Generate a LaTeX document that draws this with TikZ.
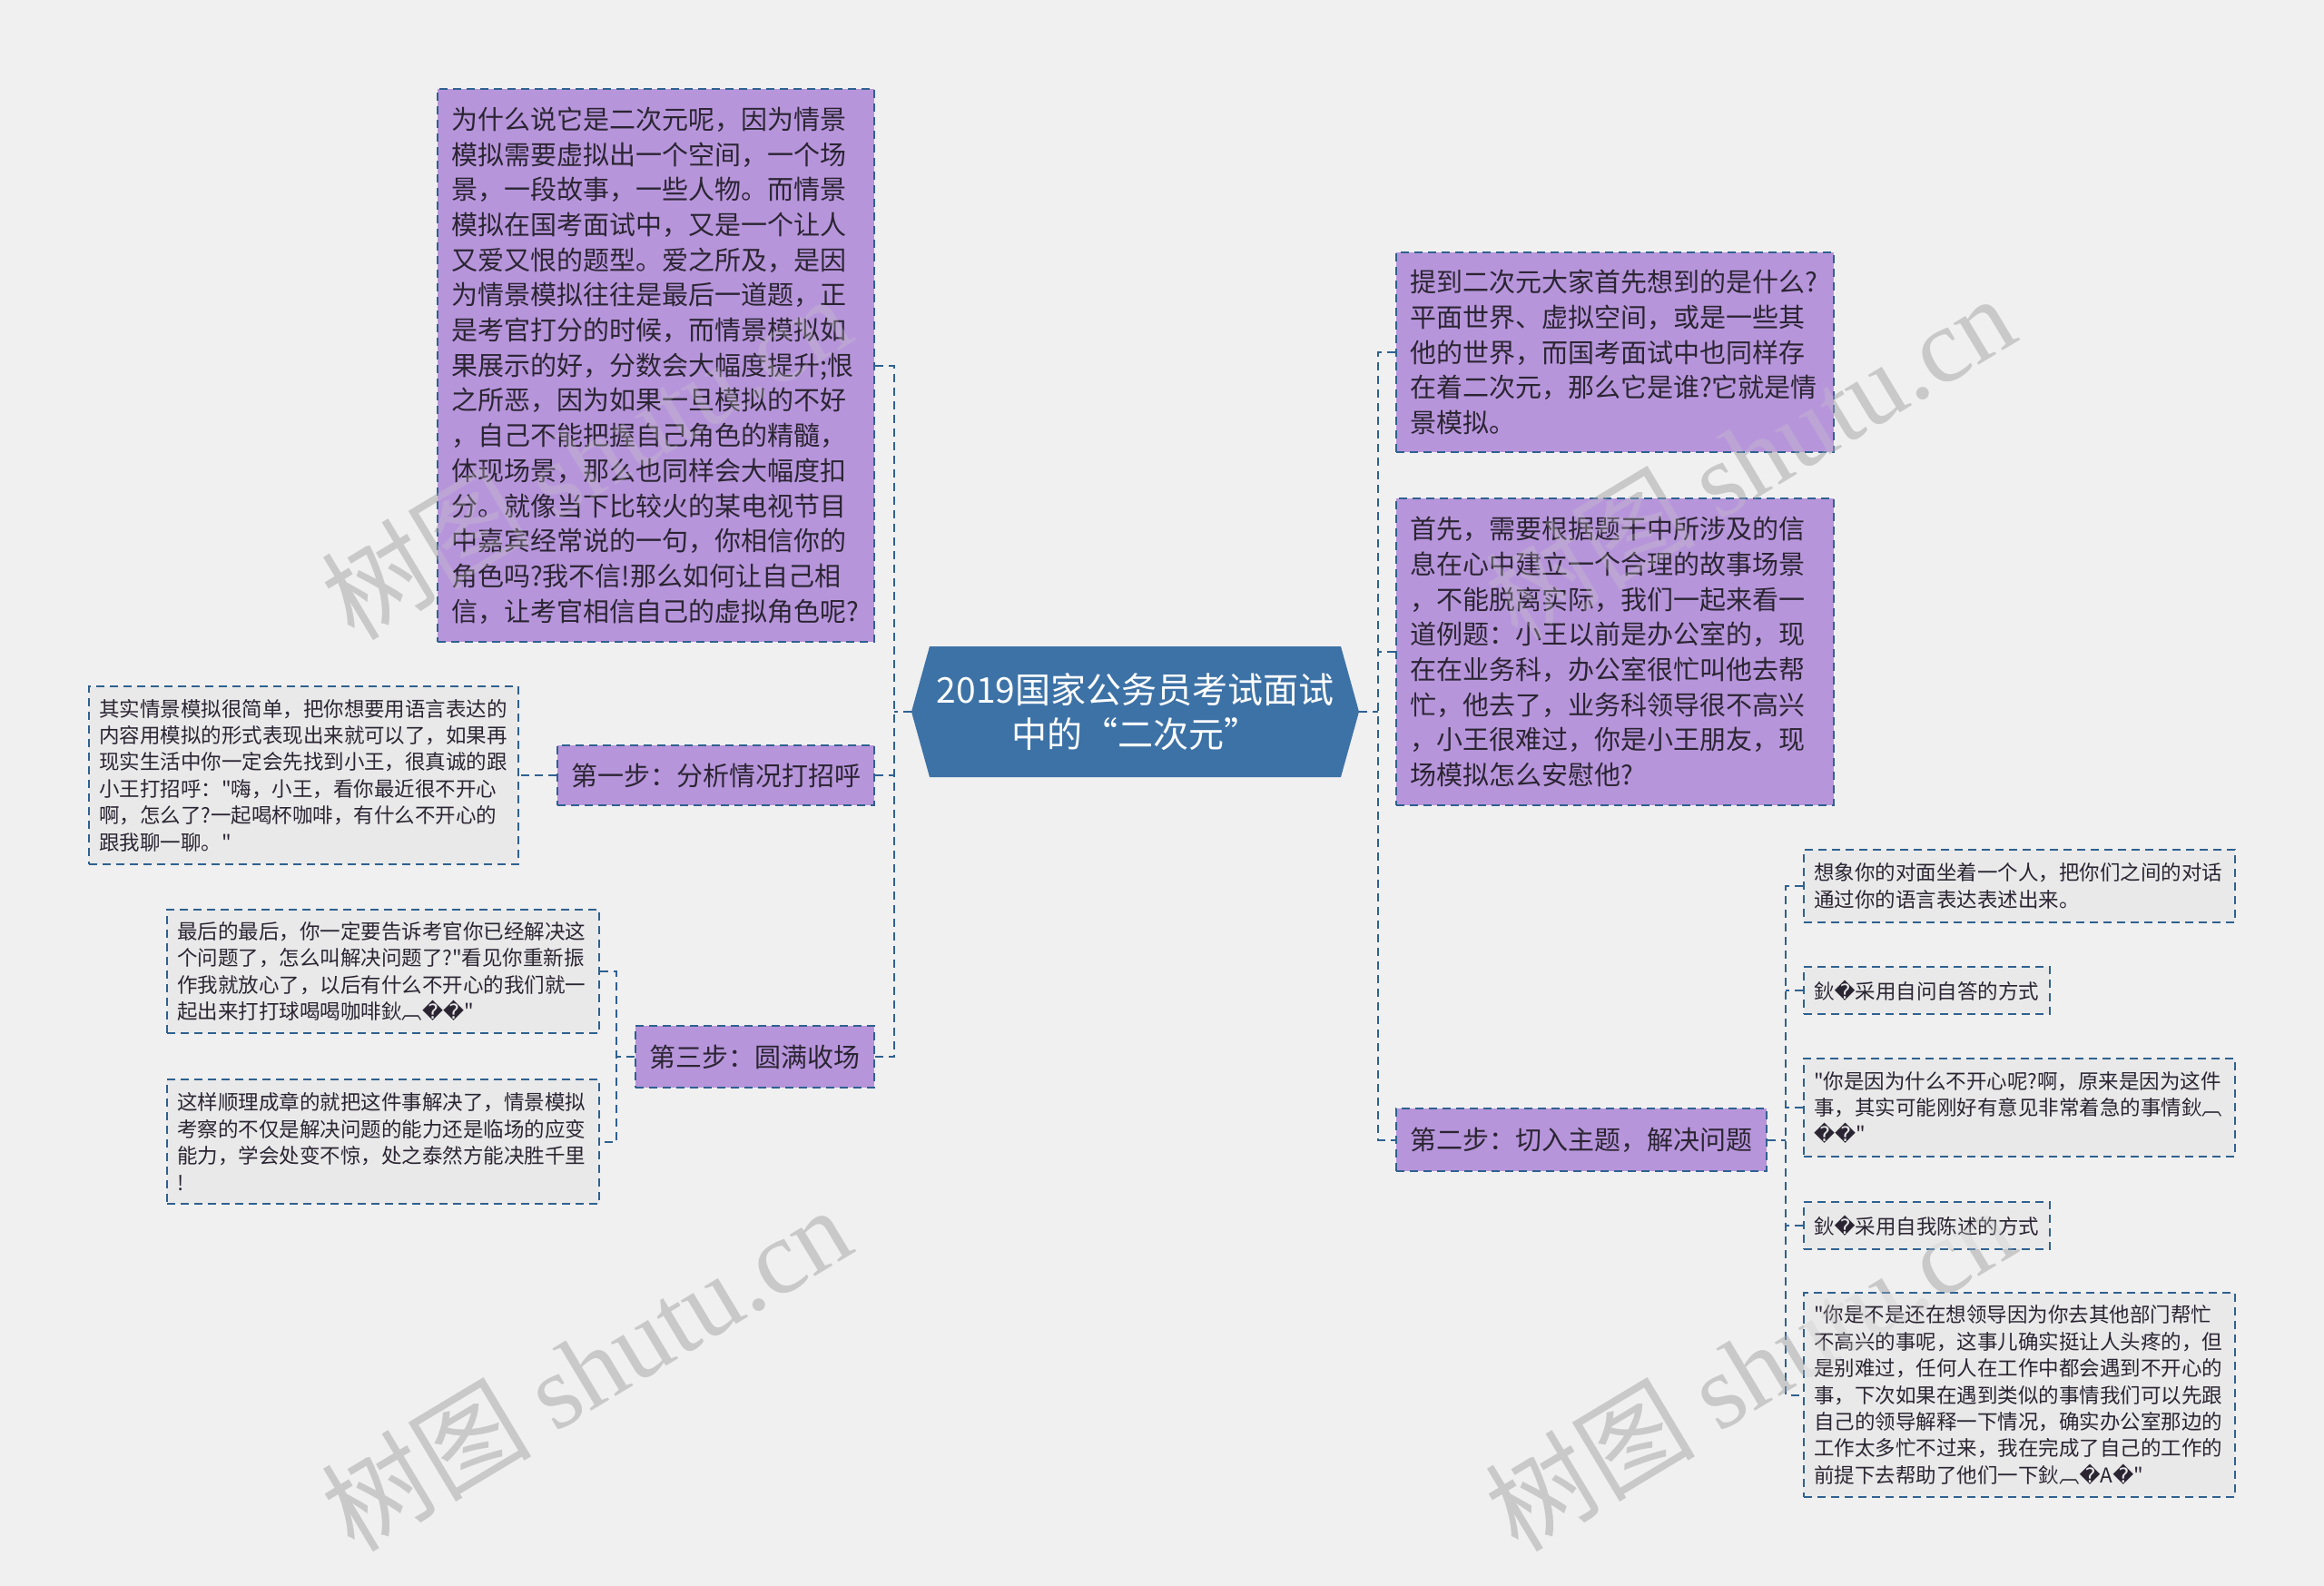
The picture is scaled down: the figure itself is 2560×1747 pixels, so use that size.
\documentclass[tikz,border=0pt]{standalone}
\usepackage{fontspec}
\setmainfont{Noto Sans CJK SC}[Ligatures=TeXOff]
\newfontfamily\dvfont{DejaVu Sans}
\newfontfamily\wmserif{Liberation Serif}
\definecolor{bgc}{HTML}{F0F0F0}
\definecolor{purp}{HTML}{B795DB}
\definecolor{bordc}{HTML}{2F6190}
\definecolor{rootc}{HTML}{3D72A6}
\definecolor{greyf}{HTML}{E9E9E9}
\definecolor{txtd}{HTML}{2B2533}
\definecolor{wmc}{HTML}{C9C9C9}
\newcommand{\rc}{{\dvfont\symbol{"FFFD}}}
\newcommand{\wmtext}{树图 {\wmserif shutu.cn}}
\tikzset{
  bx/.style={draw=bordc, line width=2pt, dash pattern=on 9pt off 6pt, inner ysep=0pt, anchor=center},
  pbig/.style={bx, fill=purp, text=txtd, align=left, inner xsep=15pt, font=\fontsize{29}{38.7}\selectfont},
  stepn/.style={bx, fill=purp, text=txtd, align=center, inner xsep=0pt, font=\fontsize{29}{35}\selectfont},
  gbox/.style={bx, fill=greyf, text=txtd, align=left, inner xsep=11pt, font=\fontsize{22.5}{29.4}\selectfont},
  conn/.style={draw=bordc, line width=2pt, dash pattern=on 9pt off 6pt},
  wm/.style={text=wmc, font=\fontsize{116}{116}\selectfont, rotate=31, inner sep=0pt},
  wmtop/.style={wm, text opacity=0.3},
}
\begin{document}
\begin{tikzpicture}[x=1pt, y=-1pt]
\useasboundingbox (0,0) rectangle (2560,1747);
\fill[bgc] (0,0) rectangle (2560,1747);

% watermarks (under the boxes)
\node[wm] (wm1) at (645,503) {\wmtext};
\node[wm] (wm2) at (1927,503) {\wmtext};
\node[wm] (wm3) at (645,1507) {\wmtext};
\node[wm] (wm4) at (1927,1507) {\wmtext};

% root hexagon
\fill[rootc] (1004,784) -- (1024,712) -- (1477,712) -- (1497,784) -- (1477,856) -- (1024,856) -- cycle;
\node[inner sep=0pt, minimum width=493pt, minimum height=144pt, text=white, align=center,
      font=\fontsize{39}{49}\selectfont] (root) at (1250.5,784)
      {2019国家公务员考试面试\\中的“二次元”};

% left side
\node[pbig, minimum width=481pt, minimum height=609pt, text width=451pt] (tl) at (722.5,402.5) {为什么说它是二次元呢，因为情景\\模拟需要虚拟出一个空间，一个场\\景，一段故事，一些人物。而情景\\模拟在国考面试中，又是一个让人\\又爱又恨的题型。爱之所及，是因\\为情景模拟往往是最后一道题，正\\是考官打分的时候，而情景模拟如\\果展示的好，分数会大幅度提升;恨\\之所恶，因为如果一旦模拟的不好\\，自己不能把握自己角色的精髓，\\体现场景，那么也同样会大幅度扣\\分。就像当下比较火的某电视节目\\中嘉宾经常说的一句，你相信你的\\角色吗?我不信!那么如何让自己相\\信，让考官相信自己的虚拟角色呢?};

\node[stepn, minimum width=349pt, minimum height=66pt] (s1) at (788.5,854) {第一步：分析情况打招呼};
\node[stepn, minimum width=263pt, minimum height=68pt] (s3) at (831.5,1164) {第三步：圆满收场};

\node[gbox, minimum width=473pt, minimum height=196pt, text width=451pt] (g1) at (334.5,854) {其实情景模拟很简单，把你想要用语言表达的\\内容用模拟的形式表现出来就可以了，如果再\\现实生活中你一定会先找到小王，很真诚的跟\\小王打招呼："嗨，小王，看你最近很不开心\\啊，怎么了?一起喝杯咖啡，有什么不开心的\\跟我聊一聊。"};

\node[gbox, minimum width=476pt, minimum height=136pt, text width=454pt] (g2) at (422,1070) {最后的最后，你一定要告诉考官你已经解决这\\个问题了，怎么叫解决问题了?"看见你重新振\\作我就放心了，以后有什么不开心的我们就一\\起出来打打球喝喝咖啡鈥︹\rc\rc"};

\node[gbox, minimum width=476pt, minimum height=137pt, text width=454pt] (g3) at (422,1257.5) {这样顺理成章的就把这件事解决了，情景模拟\\考察的不仅是解决问题的能力还是临场的应变\\能力，学会处变不惊，处之泰然方能决胜千里\\!};

% right side
\node[pbig, minimum width=482pt, minimum height=220pt, text width=452pt] (tr1) at (1779,388) {提到二次元大家首先想到的是什么?\\平面世界、虚拟空间，或是一些其\\他的世界，而国考面试中也同样存\\在着二次元，那么它是谁?它就是情\\景模拟。};

\node[pbig, minimum width=482pt, minimum height=338pt, text width=452pt] (tr2) at (1779,718) {首先，需要根据题干中所涉及的信\\息在心中建立一个合理的故事场景\\，不能脱离实际，我们一起来看一\\道例题：小王以前是办公室的，现\\在在业务科，办公室很忙叫他去帮\\忙，他去了，业务科领导很不高兴\\，小王很难过，你是小王朋友，现\\场模拟怎么安慰他?};

\node[stepn, minimum width=408pt, minimum height=69pt] (s2) at (1742,1255.5) {第二步：切入主题，解决问题};

\node[gbox, minimum width=475pt, minimum height=80pt, text width=453pt] (c1) at (2224.5,976) {想象你的对面坐着一个人，把你们之间的对话\\通过你的语言表达表述出来。};
\node[gbox, minimum width=271pt, minimum height=52pt, text width=249pt] (c2) at (2122.5,1091) {鈥\rc 采用自问自答的方式};
\node[gbox, minimum width=475pt, minimum height=108pt, text width=453pt] (c3) at (2224.5,1220) {"你是因为什么不开心呢?啊，原来是因为这件\\事，其实可能刚好有意见非常着急的事情鈥︹\\\rc\rc"};
\node[gbox, minimum width=271pt, minimum height=52pt, text width=249pt] (c4) at (2122.5,1350) {鈥\rc 采用自我陈述的方式};
\node[gbox, minimum width=475pt, minimum height=225pt, text width=453pt] (c5) at (2224.5,1536.5) {"你是不是还在想领导因为你去其他部门帮忙\\不高兴的事呢，这事儿确实挺让人头疼的，但\\是别难过，任何人在工作中都会遇到不开心的\\事，下次如果在遇到类似的事情我们可以先跟\\自己的领导解释一下情况，确实办公室那边的\\工作太多忙不过来，我在完成了自己的工作的\\前提下去帮助了他们一下鈥︹\rc A\rc"};

% connectors
\coordinate (lt) at (985,784);
\coordinate (rt) at (1518,784);
\coordinate (b3) at (679,1164);
\coordinate (b2) at (1967,1255.5);

\draw[conn] (root.west) -- (lt);
\draw[conn] (tl.east) -| (lt |- s3.east) -- (s3.east);
\draw[conn] (s1.east) -- (s1.east -| lt);

\draw[conn] (root.east) -- (rt);
\draw[conn] (tr1.west) -| (rt |- s2.west) -- (s2.west);
\draw[conn] (tr2.west) -- (tr2.west -| rt);

\draw[conn] (s1.west) -- (g1.east);

\draw[conn] (g2.east) -| (b3 |- g3.east) -- (g3.east);
\draw[conn] (s3.west) -- (s3.west -| b3);

\draw[conn] (c1.west) -| (b2 |- c5.west) -- (c5.west);
\draw[conn] (s2.east) -- (s2.east -| b2);
\draw[conn] (c2.west) -- (c2.west -| b2);
\draw[conn] (c3.west) -- (c3.west -| b2);
\draw[conn] (c4.west) -- (c4.west -| b2);

% faint watermark overlay on top of the boxes
\node[wmtop] (wt1) at (645,503) {\wmtext};
\node[wmtop] (wt2) at (1927,503) {\wmtext};
\node[wmtop] (wt3) at (645,1507) {\wmtext};
\node[wmtop] (wt4) at (1927,1507) {\wmtext};
\end{tikzpicture}
\end{document}
